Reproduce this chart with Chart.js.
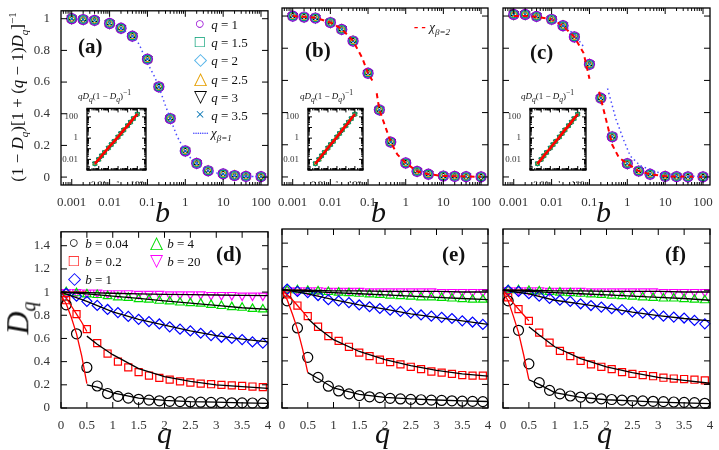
<!DOCTYPE html>
<html lang="en">
<head>
<meta charset="UTF-8">
<title>Dq scaling</title>
<script src="https://cdn.jsdelivr.net/npm/chart.js"></script>
<style>
  body { margin:0; background:#fff; width:719px; height:450px; position:relative; overflow:hidden; font-family:'Liberation Serif', serif; }
  canvas { position:absolute; }
  .t { position:absolute; white-space:nowrap; color:#111; font-family:'Liberation Serif', serif; }
  .m { font-style:italic; }
  .lbl { font-weight:bold; font-size:21px; }
  .lg { font-size:13px; font-style:italic; line-height:18px; }
  .sym { display:inline-block; width:16px; text-align:center; font-style:normal; font-size:17px; }
</style>
</head>
<body>
<script>
// ---- top panels: scaling function vs b ----
const bPts = [0.001, 0.002, 0.004, 0.01, 0.02, 0.04, 0.1, 0.2, 0.4, 1, 2, 4, 10, 20, 40, 100];
const valsA = [1, 0.995, 0.99, 0.97, 0.94, 0.89, 0.745, 0.57, 0.37, 0.165, 0.087, 0.04, 0.02, 0.01, 0.005, 0.003];
const valsB = [1, 0.994, 0.988, 0.96, 0.917, 0.845, 0.645, 0.417, 0.217, 0.087, 0.035, 0.017, 0.006, 0.004, 0.002, 0.001];
const valsC = [1.01, 1.01, 0.998, 0.98, 0.94, 0.87, 0.70, 0.49, 0.25, 0.083, 0.037, 0.017, 0.004, 0.002, 0.001, 0.001];

const chi1A_b = [0.02, 0.04, 0.06, 0.1, 0.15, 0.2, 0.3, 0.4, 0.6, 1, 1.5, 2, 4, 10, 30, 100];
const chi1A_v = [0.94, 0.89, 0.84, 0.72, 0.64, 0.57, 0.45, 0.37, 0.26, 0.16, 0.11, 0.085, 0.04, 0.015, 0.005, 0.002];
const chi2B_b = [0.001, 0.002, 0.004, 0.01, 0.02, 0.04, 0.07, 0.1, 0.13, 0.15, 0.17, 0.2, 0.3, 0.4, 0.6, 1, 2, 4, 10, 100];
const chi2B_v = [1, 0.995, 0.99, 0.96, 0.92, 0.845, 0.74, 0.645, 0.6, null, 0.52, 0.417, 0.3, 0.217, 0.14, 0.087, 0.035, 0.017, 0.006, 0.001];
const chi2C_b = [0.001, 0.002, 0.004, 0.01, 0.02, 0.04, 0.07, 0.1, 0.15, 0.18, 0.3, 0.4, 0.6, 1, 2, 4, 10, 100];
const chi2C_v = [1, 1, 0.995, 0.98, 0.94, 0.87, 0.77, 0.61, null, 0.53, 0.32, 0.2, 0.12, 0.083, 0.037, 0.017, 0.004, 0.001];
const chi1C_b = [0.01, 0.02, 0.04, 0.07, 0.15, 0.3, 0.5, 0.8, 1.2, 2.2, 6, 20, 100];
const chi1C_v = [0.98, 0.945, 0.885, 0.81, null, 0.55, 0.36, 0.23, 0.13, 0.07, 0.03, 0.01, 0.002];

const qNames = ['q = 1', 'q = 1.5', 'q = 2', 'q = 2.5', 'q = 3', 'q = 3.5'];
const qColors = ['#9400d3', '#009e73', '#56b4e9', '#e69f00', '#000000', '#0072b2'];
const qStyles = ['circle', 'rect', 'rectRot', 'triangle', 'triangle', 'crossRot'];
const qRot = [0, 0, 0, 0, 180, 0];

const insX = [0.004, 0.01, 0.02, 0.04, 0.1, 0.2, 0.4, 1, 2, 4, 10, 20, 40, 100];
const insY = [0.004, 0.01, 0.022, 0.045, 0.12, 0.25, 0.5, 1.3, 2.8, 6, 15, 32, 70, 180];

const bTickVals = [0.001, 0.01, 0.1, 1, 10, 100];
const bTickLabels = ['0.001', '0.01', '0.1', '1', '10', '100'];
const insTickVals = [0.01, 1, 100];
const insTickLabels = ['0.01', '1', '100'];

// ---- bottom panels: Dq vs q ----
const qPts = [0.1, 0.3, 0.5, 0.7, 0.9, 1.1, 1.3, 1.5, 1.7, 1.9, 2.1, 2.3, 2.5, 2.7, 2.9, 3.1, 3.3, 3.5, 3.7, 3.9];
const bNames = ['b = 0.04', 'b = 0.2', 'b = 1', 'b = 4', 'b = 20'];
const bColors = ['#000000', '#ff0000', '#0000ff', '#00dd00', '#ff00ff'];
const bStyles = ['circle', 'rect', 'rectRot', 'triangle', 'triangle'];
const bRot = [0, 0, 0, 0, 180];

const dD = [
  [0.89, 0.64, 0.35, 0.19, 0.125, 0.10, 0.085, 0.075, 0.068, 0.062, 0.058, 0.055, 0.052, 0.05, 0.048, 0.046, 0.045, 0.044, 0.043, 0.042],
  [0.93, 0.81, 0.68, 0.56, 0.47, 0.40, 0.35, 0.31, 0.28, 0.26, 0.245, 0.23, 0.22, 0.21, 0.205, 0.2, 0.195, 0.19, 0.185, 0.18],
  [0.99, 0.965, 0.92, 0.885, 0.85, 0.823, 0.79, 0.765, 0.745, 0.725, 0.70, 0.68, 0.665, 0.645, 0.625, 0.61, 0.60, 0.59, 0.57, 0.56],
  [1.0, 0.99, 0.98, 0.975, 0.965, 0.955, 0.95, 0.94, 0.935, 0.925, 0.92, 0.91, 0.905, 0.9, 0.89, 0.88, 0.87, 0.865, 0.855, 0.85],
  [1.0, 1.0, 0.995, 0.995, 0.99, 0.99, 0.99, 0.985, 0.985, 0.985, 0.98, 0.98, 0.98, 0.98, 0.975, 0.975, 0.975, 0.97, 0.97, 0.97]
];
const dE = [
  [0.91, 0.68, 0.43, 0.26, 0.185, 0.145, 0.12, 0.105, 0.095, 0.088, 0.082, 0.077, 0.073, 0.07, 0.067, 0.064, 0.061, 0.058, 0.056, 0.054],
  [0.965, 0.87, 0.78, 0.69, 0.61, 0.57, 0.52, 0.47, 0.44, 0.41, 0.39, 0.37, 0.35, 0.33, 0.31, 0.30, 0.29, 0.28, 0.275, 0.275],
  [1.01, 0.99, 0.98, 0.955, 0.92, 0.91, 0.895, 0.875, 0.86, 0.845, 0.83, 0.82, 0.805, 0.79, 0.78, 0.77, 0.76, 0.74, 0.73, 0.71],
  [1.0, 1.0, 0.995, 0.99, 0.985, 0.98, 0.975, 0.97, 0.965, 0.96, 0.955, 0.95, 0.945, 0.94, 0.94, 0.935, 0.93, 0.925, 0.92, 0.92],
  [1.0, 1.0, 1.0, 1.0, 0.995, 0.995, 0.995, 0.995, 0.99, 0.99, 0.99, 0.99, 0.99, 0.99, 0.99, 0.985, 0.985, 0.985, 0.985, 0.985]
];
const dF = [
  [0.91, 0.66, 0.375, 0.215, 0.15, 0.12, 0.102, 0.093, 0.085, 0.078, 0.072, 0.067, 0.063, 0.06, 0.057, 0.054, 0.051, 0.048, 0.045, 0.04],
  [0.94, 0.84, 0.74, 0.64, 0.555, 0.485, 0.44, 0.40, 0.37, 0.35, 0.33, 0.305, 0.29, 0.28, 0.27, 0.257, 0.25, 0.246, 0.24, 0.235],
  [1.0, 0.99, 0.97, 0.95, 0.93, 0.915, 0.905, 0.885, 0.87, 0.857, 0.843, 0.835, 0.815, 0.806, 0.795, 0.78, 0.772, 0.764, 0.744, 0.715],
  [1.0, 1.0, 0.995, 0.99, 0.985, 0.98, 0.975, 0.97, 0.965, 0.96, 0.955, 0.95, 0.945, 0.94, 0.935, 0.93, 0.93, 0.925, 0.92, 0.915],
  [1.0, 1.0, 1.0, 1.0, 0.995, 0.995, 0.995, 0.995, 0.99, 0.99, 0.99, 0.99, 0.99, 0.99, 0.99, 0.985, 0.985, 0.985, 0.985, 0.985]
];

// fitted curves: black for q >= 0.5 (b=0.04, 0.2) and whole range (b=1, 4, 20); red for q <= 0.5
const qFit = [0.5, 0.7, 1, 1.5, 2, 2.5, 3, 3.5, 4];
const qFull = [0, 0.5, 1, 1.5, 2, 2.5, 3, 3.5, 4];
const qRed = [0, 0.1, 0.2, 0.3, 0.4, 0.5];
const fitD = {
  b004: [0.2, 0.18, 0.13, 0.085, 0.065, 0.055, 0.05, 0.045, 0.04],
  b02: [0.62, 0.55, 0.46, 0.34, 0.27, 0.23, 0.2, 0.185, 0.17],
  b1: [1.0, 0.92, 0.83, 0.765, 0.715, 0.665, 0.625, 0.595, 0.57],
  b4: [1.0, 0.985, 0.965, 0.945, 0.925, 0.905, 0.885, 0.865, 0.85],
  b20: [1.0, 0.995, 0.99, 0.985, 0.98, 0.978, 0.975, 0.972, 0.97],
  r004: [0.97, 0.9, 0.78, 0.64, 0.45, 0.21],
  r02: [1.0, 0.95, 0.88, 0.81, 0.74, 0.66]
};
const fitE = {
  b004: [0.3, 0.25, 0.17, 0.115, 0.09, 0.077, 0.068, 0.06, 0.055],
  b02: [0.76, 0.68, 0.58, 0.48, 0.41, 0.36, 0.32, 0.29, 0.27],
  b1: [1.01, 0.97, 0.92, 0.875, 0.84, 0.8, 0.77, 0.74, 0.71],
  b4: [1.0, 0.99, 0.98, 0.97, 0.96, 0.95, 0.94, 0.93, 0.92],
  b20: [1.0, 1.0, 0.995, 0.995, 0.99, 0.99, 0.99, 0.985, 0.985],
  r004: [0.98, 0.92, 0.8, 0.67, 0.5, 0.3],
  r02: [1.0, 0.96, 0.92, 0.87, 0.82, 0.77]
};
const fitF = {
  b004: [0.24, 0.2, 0.13, 0.09, 0.07, 0.06, 0.05, 0.043, 0.037],
  b02: [0.69, 0.62, 0.52, 0.42, 0.35, 0.3, 0.26, 0.235, 0.21],
  b1: [1.0, 0.97, 0.915, 0.885, 0.85, 0.815, 0.785, 0.76, 0.74],
  b4: [1.0, 0.99, 0.98, 0.97, 0.96, 0.95, 0.94, 0.93, 0.915],
  b20: [1.0, 1.0, 0.995, 0.995, 0.99, 0.99, 0.99, 0.985, 0.985],
  r004: [0.98, 0.91, 0.78, 0.64, 0.45, 0.24],
  r02: [1.0, 0.95, 0.89, 0.84, 0.79, 0.74]
};
const qTickVals = [0, 0.5, 1, 1.5, 2, 2.5, 3, 3.5, 4];
const qTickLabels = ['0', '0.5', '1', '1.5', '2', '2.5', '3', '3.5', '4'];
const dTickVals = [0, 0.2, 0.4, 0.6, 0.8, 1, 1.2, 1.4];
const dTickLabels = ['0', '0.2', '0.4', '0.6', '0.8', '1', '1.2', '1.4'];
const topYTicks = [0, 0.2, 0.4, 0.6, 0.8, 1];
const topYLabels = ['0', '0.2', '0.4', '0.6', '0.8', '1'];

const SERIF = "'Liberation Serif', 'DejaVu Serif', serif";
const pts = (xs, ys) => xs.map((x, i) => ({ x: x, y: ys[i] }));

// frame + inward ticks on all four sides
Chart.register({
  id: 'frame',
  beforeDraw(chart) {
    if (!chart.options.whiteArea) return;
    const a = chart.chartArea, ctx = chart.ctx;
    ctx.save(); ctx.fillStyle = '#fff';
    ctx.fillRect(a.left, a.top, a.right - a.left, a.bottom - a.top);
    ctx.restore();
  },
  afterDraw(chart) {
    const a = chart.chartArea, ctx = chart.ctx;
    const big = chart.options.tickLen || 6;
    ctx.save();
    ctx.strokeStyle = '#000'; ctx.lineWidth = 1.3;
    ctx.strokeRect(a.left, a.top, a.right - a.left, a.bottom - a.top);
    ctx.lineWidth = 1;
    ctx.beginPath();
    chart.scales.x.ticks.forEach(t => {
      const p = chart.scales.x.getPixelForValue(t.value), l = t.major ? big : big / 2;
      ctx.moveTo(p, a.bottom); ctx.lineTo(p, a.bottom - l);
      ctx.moveTo(p, a.top); ctx.lineTo(p, a.top + l);
    });
    chart.scales.y.ticks.forEach(t => {
      const p = chart.scales.y.getPixelForValue(t.value), l = t.major ? big : big / 2;
      ctx.moveTo(a.left, p); ctx.lineTo(a.left + l, p);
      ctx.moveTo(a.right, p); ctx.lineTo(a.right - l, p);
    });
    ctx.stroke();
    ctx.restore();
  }
});

function logTicks(min, max) {
  const out = [];
  for (let e = -4; e <= 3; e++)
    for (let m = 1; m <= 9; m++) {
      const v = m * Math.pow(10, e);
      if (v >= min && v <= max) out.push({ value: v, major: m === 1 });
    }
  return out;
}

function axis(type, min, max, tickVals, tickLabels, showLabels, size, fontSize, isX, minor) {
  return {
    type: type, min: min, max: max,
    grid: { display: false }, border: { display: false },
    afterBuildTicks: s => {
      s.ticks = minor ? logTicks(min, max) : tickVals.map(v => ({ value: v, major: true }));
    },
    afterFit: s => { if (isX) s.height = size; else s.width = size; },
    ticks: {
      display: showLabels, autoSkip: false, maxRotation: 0, padding: isX ? 2 : 3,
      color: '#333', font: { family: SERIF, size: fontSize },
      callback: v => {
        const i = tickVals.findIndex(t => Math.abs(t - v) < 1e-9 * Math.max(1, Math.abs(t)));
        return i >= 0 ? tickLabels[i] : '';
      }
    }
  };
}

function makeCanvas(left, top, w, h) {
  const c = document.createElement('canvas');
  c.style.left = left + 'px'; c.style.top = top + 'px';
  c.style.width = w + 'px'; c.style.height = h + 'px';
  c.width = w; c.height = h;
  document.body.appendChild(c);
  return c;
}

// main panel: frame given as [L,T,R,B]
function panel(fr, datasets, xAx, yAx) {
  const padL = 60, padT = 8, padR = 8, padB = 30;
  const c = makeCanvas(fr[0] - padL, fr[1] - padT, fr[2] - fr[0] + padL + padR, fr[3] - fr[1] + padT + padB);
  return new Chart(c, {
    type: 'scatter',
    data: { datasets: datasets },
    options: {
      responsive: false, animation: false, devicePixelRatio: 1,
      layout: { padding: { top: padT, right: padR, left: 0, bottom: 0 } },
      plugins: { legend: { display: false }, tooltip: { enabled: false } },
      scales: { x: xAx, y: yAx }
    }
  });
}

function qMarkers(vals, r) {
  return qNames.map((n, k) => ({
    label: n, data: pts(bPts, vals), showLine: false, clip: false,
    pointStyle: qStyles[k], pointRotation: qRot[k], pointRadius: r,
    borderColor: qColors[k], backgroundColor: 'rgba(0,0,0,0)', borderWidth: 1.2
  }));
}
function curve(xs, ys, color, dash, w) {
  return { data: pts(xs, ys), showLine: true, pointRadius: 0, borderColor: color, borderDash: dash, borderWidth: w || 1.5, spanGaps: false, clip: false };
}
const chi1Style = ['#4b4bff', [1.5, 3]];
const chi2Style = ['#ff0000', [5, 4]];

const topFr = [[61, 8, 268, 185], [282, 8, 488, 185], [503, 8, 710, 185]];
const xTop = () => axis('logarithmic', 5.2e-4, 153, bTickVals, bTickLabels, true, 30, 13, true, true);
const yTop = show => axis('linear', -0.05, 1.05, topYTicks, topYLabels, show, 60, 13, false, false);

panel(topFr[0], [curve(chi1A_b, chi1A_v, chi1Style[0], chi1Style[1])].concat(qMarkers(valsA, 5)), xTop(), yTop(true));
panel(topFr[1], [curve(chi2B_b, chi2B_v, chi2Style[0], chi2Style[1], 2)].concat(qMarkers(valsB, 5)), xTop(), yTop(false));
panel(topFr[2], [curve(chi1C_b, chi1C_v, chi1Style[0], chi1Style[1]), curve(chi2C_b, chi2C_v, chi2Style[0], chi2Style[1], 2)].concat(qMarkers(valsC, 5)), xTop(), yTop(false));

// insets
function inset(fr) {
  const padL = 26, padT = 2, padR = 4, padB = 13;
  const c = makeCanvas(fr[0] - padL, fr[1] - padT, fr[2] - fr[0] + padL + padR, fr[3] - fr[1] + padT + padB);
  const ds = [curve(insX, insY, '#ff0000', [], 2.5)];
  [1, 3, 4, 5].forEach(k => ds.push({
    data: pts(insX, insY), showLine: false, clip: false, pointStyle: qStyles[k], pointRotation: qRot[k],
    pointRadius: 2.6, borderColor: qColors[k], backgroundColor: 'rgba(0,0,0,0)', borderWidth: 1
  }));
  const ax = (isX, size, min, max) => {
    const a = axis('logarithmic', min, max, insTickVals, insTickLabels, true, size, 9, isX, true);
    a.ticks.padding = 1;
    return a;
  };
  new Chart(c, {
    type: 'scatter',
    data: { datasets: ds },
    options: {
      responsive: false, animation: false, devicePixelRatio: 1, whiteArea: true, tickLen: 4,
      layout: { padding: { top: padT, right: padR, left: 0, bottom: 0 } },
      plugins: { legend: { display: false }, tooltip: { enabled: false } },
      scales: { x: ax(true, padB, 6e-4, 800), y: ax(false, padL, 1e-3, 630) }
    }
  });
}
inset([87, 104, 147, 170]);
inset([308, 104, 364, 170]);
inset([530, 104, 587, 170]);

// bottom panels
const botFr = [[61, 229, 268, 408], [282, 229, 488, 408], [503, 229, 710, 408]];
function bottomSets(vals, fit) {
  const ds = [
    curve(qFit, fit.b004, '#000', [], 1.3), curve(qFit, fit.b02, '#000', [], 1.3),
    curve(qFull, fit.b1, '#000', [], 1.3), curve(qFull, fit.b4, '#000', [], 1.3), curve(qFull, fit.b20, '#000', [], 1.3),
    curve(qRed, fit.r004, '#ff0000', [], 1.3), curve(qRed, fit.r02, '#ff0000', [], 1.3),
    curve([0, 0.5], [1, 1], '#ff0000', [], 1.3)
  ];
  bNames.forEach((n, k) => ds.push({
    label: n, data: pts(qPts, vals[k]), showLine: false, clip: false,
    pointStyle: bStyles[k], pointRotation: bRot[k], pointRadius: 5,
    borderColor: bColors[k], backgroundColor: 'rgba(0,0,0,0)', borderWidth: 1.2
  }));
  return ds;
}
const xBot = () => axis('linear', 0, 4, qTickVals, qTickLabels, true, 30, 13, true, false);
const yBot = show => axis('linear', 0, 1.52, dTickVals, dTickLabels, show, 60, 13, false, false);
panel(botFr[0], bottomSets(dD, fitD), xBot(), yBot(true));
panel(botFr[1], bottomSets(dE, fitE), xBot(), yBot(false));
panel(botFr[2], bottomSets(dF, fitF), xBot(), yBot(false));

// text overlays
function txt(html, x, y, cls, extra) {
  const d = document.createElement('div');
  d.className = 't ' + (cls || '');
  d.innerHTML = html;
  d.style.left = x + 'px'; d.style.top = y + 'px';
  if (extra) d.style.cssText += extra;
  document.body.appendChild(d);
}
txt('(a)', 78, 34, 'lbl'); txt('(b)', 305, 38, 'lbl'); txt('(c)', 530, 40, 'lbl');
txt('(d)', 216, 242, 'lbl'); txt('(e)', 442, 242, 'lbl'); txt('(f)', 665, 242, 'lbl');
[162, 378, 603].forEach(x => txt('b', x - 7, 195, 'm', 'font-size:30px;'));
[164, 382, 604].forEach(x => txt('q', x - 7, 416, 'm', 'font-size:30px;'));
txt('(1 − <i>D<sub style="font-size:11px">q</sub></i>)[1 + (<i>q</i> − 1)<i>D<sub style="font-size:11px">q</sub></i>]<sup style="font-size:11px">−1</sup>',
  18, 97, '', 'font-size:17px;transform:translate(-50%,-50%) rotate(-90deg);');
txt('<i>D<sub style="font-size:20px">q</sub></i>', 20, 318, '', 'font-size:32px;transform:translate(-50%,-50%) rotate(-90deg);');
[[78, 88], [300, 88], [521, 88]].forEach(p => txt('<i>qD<sub>q</sub></i>(1 − <i>D<sub>q</sub></i>)<sup>−1</sup>', p[0], p[1], '', 'font-size:9px;'));

const qSyms = ['○', '□', '◇', '△', '▽', '×'];
qNames.forEach((n, k) => txt('<span class="sym" style="color:' + qColors[k] + '">' + qSyms[k] + '</span> ' + n.replace('q', '<i>q</i>'),
  192, 15 + k * 18.2, 'lg', 'font-style:normal;'));
txt('<span style="color:#4b4bff;letter-spacing:-1px">·······</span> <i>χ<sub style="font-size:9px">β=1</sub></i>', 192, 124, 'lg');
txt('<span style="color:#ff0000;font-weight:bold">- -</span> <i>χ<sub style="font-size:9px">β=2</sub></i>', 414, 18, 'lg');

const bSyms = ['○', '□', '◇', '△', '▽'];
const bPos = [[66, 234], [66, 252], [66, 270], [148, 234], [148, 252]];
bNames.forEach((n, k) => txt('<span class="sym" style="color:' + bColors[k] + '">' + bSyms[k] + '</span> ' + n.replace('b', '<i>b</i>'),
  bPos[k][0], bPos[k][1], 'lg', 'font-style:normal;'));
</script>
</body>
</html>
